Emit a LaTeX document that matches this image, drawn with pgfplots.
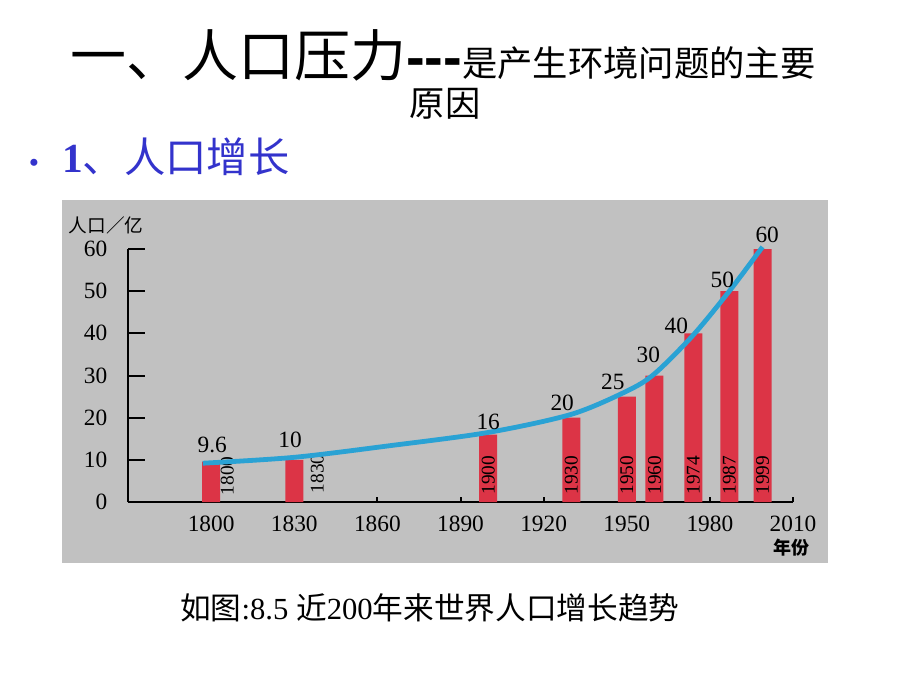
\documentclass[border=0pt]{standalone}
\usepackage{pgfplots}
\pgfplotsset{compat=1.18}
\usepackage{pgfplotstable}
\usepackage{fontspec}
\setmainfont{Liberation Serif}
\newfontfamily\cjk{Noto Sans CJK SC}
\newfontfamily\arialb{Liberation Sans}
\definecolor{bg}{RGB}{193,193,193}
\definecolor{barred}{RGB}{220,52,70}
\definecolor{lineblue}{RGB}{42,162,212}
\definecolor{titleblue}{RGB}{51,51,204}

\pgfplotstableread{
year pop
1800 9.6
1830 10
1900 16
1930 20
1950 25
1960 30
1974 40
1987 50
1999 60
}\bardata

\pgfplotstableread{
year pop
1797 9.2
1830 10.6
1865 13.4
1900 16.5
1930 20.8
1950 26.3
1960 30.4
1974 39.6
1987 50
1999 60.5
}\curvedata

\begin{document}
\begin{tikzpicture}
\begin{scope}[x=0.75pt,y=-0.75pt]
\fill[white] (0,0) rectangle (920,690);
\useasboundingbox (0,0) rectangle (920,690);
\fill[bg] (62,200) rectangle (828,563);
% title
\node[anchor=base west, inner sep=0pt] at (70,76)
  {{\cjk\fontsize{42pt}{42pt}\selectfont 一、人口压力}{\arialb\bfseries\fontsize{42pt}{42pt}\selectfont -{}-{}-}{\cjk\fontsize{26.5pt}{26.5pt}\selectfont 是产生环境问题的主要}};
\node[anchor=base, inner sep=0pt] at (445,116) {\cjk\fontsize{26.5pt}{26.5pt}\selectfont 原因};
% bullet
\node[anchor=base, inner sep=0pt, text=titleblue] at (34,172) {\fontsize{22pt}{22pt}\selectfont\textbullet};
\node[anchor=base west, inner sep=0pt, text=titleblue] at (62,172)
  {\fontsize{31pt}{31pt}\selectfont\bfseries 1{\cjk\mdseries 、人口增长}};
% caption
\node[anchor=base west, inner sep=0pt] at (180,619)
  {\fontsize{23pt}{23pt}\selectfont{\cjk 如图}:8.5 {\cjk 近}200{\cjk 年来世界人口增长趋势}};
% axis titles
\node[anchor=center, inner sep=0pt] at (106,225) {\cjk\fontsize{14pt}{14pt}\selectfont 人口／亿};
\node[anchor=center, inner sep=0pt] at (791,548) {\cjk\bfseries\fontsize{13.5pt}{13.5pt}\selectfont 年份};
\end{scope}
\begin{axis}[
  at={(96pt,-376.5pt)}, anchor=south west,
  scale only axis, width=498.75pt, height=189.75pt,
  xmin=1770, xmax=2010, ymin=0, ymax=60,
  axis x line*=bottom, axis y line*=left,
  axis line style={line width=1.5pt, black},
  ytick={0,10,...,60}, xtick={1800,1830,...,2010},
  tick align=inside, major tick length=13pt,
  ytick style={line width=1.5pt, black},
  xtick style={draw=none},
  tick label style={font=\fontsize{17.5pt}{17.5pt}\selectfont, text=black},
  /pgf/number format/assume math mode=true,
  /pgf/number format/1000 sep={},
  yticklabel style={xshift=-12pt},
  xticklabel style={yshift=-7pt},
  clip=false,
]
\pgfplotsinvokeforeach{1860,1890,1920,1950,1980,2010}{
  \draw[line width=1.5pt] (axis cs:#1,0) -- ++(0pt,4pt);
}
\addplot[ybar, bar width=13.5pt, fill=barred, draw=none] table[x=year,y=pop] {\bardata};
% year labels
\begin{scope}[every node/.style={rotate=90, font=\fontsize{14.5pt}{14.5pt}\selectfont, inner sep=0pt}]
\node at (axis cs:1805.8,6.2) {1800};
\node at (axis cs:1838.3,6.7) {1830};
\node at (axis cs:1900,6.4) {1900};
\node at (axis cs:1930,6.4) {1930};
\node at (axis cs:1950,6.4) {1950};
\node at (axis cs:1960,6.4) {1960};
\node at (axis cs:1974,6.4) {1974};
\node at (axis cs:1987,6.4) {1987};
\node at (axis cs:1999,6.4) {1999};
\end{scope}
\addplot[smooth, line width=3.6pt, color=lineblue] table[x=year,y=pop] {\curvedata};
% value labels
\begin{scope}[every node/.style={font=\fontsize{17.5pt}{17.5pt}\selectfont, inner sep=0pt}]
\node at (axis cs:1800.4,13.5) {9.6};
\node at (axis cs:1828.5,14.7) {10};
\node at (axis cs:1900,19.0) {16};
\node at (axis cs:1926.7,23.5) {20};
\node at (axis cs:1945,28.5) {25};
\node at (axis cs:1957.8,34.9) {30};
\node at (axis cs:1967.9,41.7) {40};
\node at (axis cs:1984.5,52.6) {50};
\node at (axis cs:2000.7,63.3) {60};
\end{scope}
\end{axis}
\end{tikzpicture}
\end{document}
